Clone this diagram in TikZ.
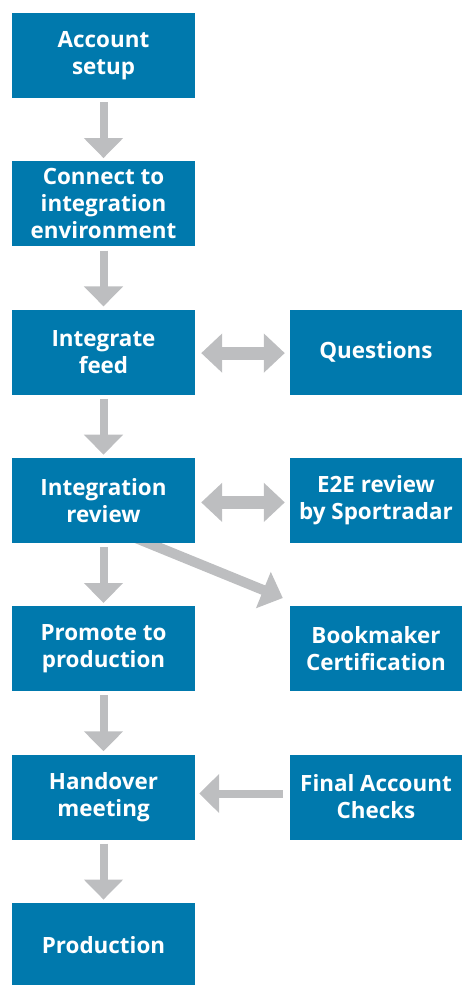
\documentclass[tikz,border=0pt]{standalone}
\usepackage{fontspec}
\setmainfont{Open Sans}
\usetikzlibrary{arrows.meta,calc}
\definecolor{boxblue}{HTML}{0079AD}
\definecolor{arrgray}{HTML}{BDBEC0}
\pgfdeclarelayer{background}
\pgfsetlayers{background,main}
\begin{document}
\begin{tikzpicture}[x=1pt,y=-1pt,
 box/.style={fill=boxblue, text=white, font=\bfseries\fontsize{22.4}{27}\selectfont, align=center, inner sep=0pt, minimum height=85pt},
 lbox/.style={box, minimum width=183pt},
 rbox/.style={box, minimum width=172pt},
 flow/.style={draw=arrgray, line width=8pt, -{Triangle[width=38pt 0 0, length=20pt 0 0]}},
 diag/.style={draw=arrgray, line width=10pt, -{Triangle[width=38pt 0 0, length=21pt 0 0]}},
 both/.style={draw=arrgray, line width=13pt, {Triangle[width=38pt 0 0,length=21pt 0 0]}-{Triangle[width=38pt 0 0,length=21pt 0 0]}},
]
\useasboundingbox (0,0) rectangle (462,985);
\node[lbox] (setup) at (103.5,55.5) {Account\\setup};
\node[lbox] (connect) at (103.5,203.8) {Connect to\\integration\\environment};
\node[lbox] (feed) at (103.5,352.1) {Integrate\\feed};
\node[lbox] (review) at (103.5,500.4) {Integration\\review};
\node[lbox] (promote) at (103.5,648.7) {Promote to\\production};
\node[lbox] (handover) at (103.5,797) {Handover\\meeting};
\node[lbox] (production) at (103.5,945.3) {Production};
\node[rbox] (questions) at (376,352.1) {Questions};
\node[rbox] (e2e) at (376,500.4) {E2E review\\by Sportradar};
\node[rbox] (bookmaker) at (376,648.7) {Bookmaker\\Certification};
\node[rbox] (final) at (376,797) {Final Account\\Checks};
\coordinate (dstart) at ($(review.south)+(30,-6)$);
\coordinate (dend) at ($(bookmaker.north west)+(-7,-8)$);
\begin{pgfonlayer}{background}
\draw[flow] ([yshift=-4pt]setup.south) -- ([yshift=3pt]connect.north);
\draw[flow] ([yshift=-4pt]connect.south) -- ([yshift=3pt]feed.north);
\draw[flow] ([yshift=-4pt]feed.south) -- ([yshift=3pt]review.north);
\draw[flow] ([yshift=-4pt]review.south) -- ([yshift=3pt]promote.north);
\draw[flow] ([yshift=-4pt]promote.south) -- ([yshift=3pt]handover.north);
\draw[flow] ([yshift=-4pt]handover.south) -- ([yshift=3pt]production.north);
\draw[both] ([xshift=6pt,yshift=-1pt]feed.east) -- ([xshift=-5pt,yshift=-1pt]questions.west);
\draw[both] ([xshift=6pt,yshift=-2pt]review.east) -- ([xshift=-5pt,yshift=-2pt]e2e.west);
\draw[flow] ([xshift=-7pt,yshift=3.5pt]final.west) -- ([xshift=4pt,yshift=3.5pt]handover.east);
\draw[diag] (dstart) -- (dend);
\end{pgfonlayer}
\end{tikzpicture}
\end{document}
